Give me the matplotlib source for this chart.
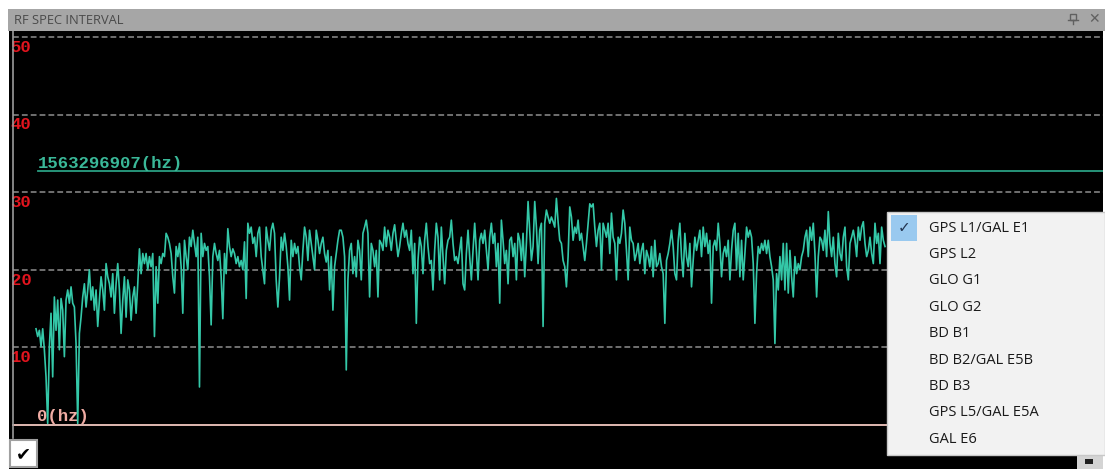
# ============================================================
# RF SPEC INTERVAL — spectrum window screenshot recreation
# ============================================================

import numpy as np
import matplotlib
matplotlib.use('Agg')
import matplotlib.pyplot as plt
from matplotlib.patches import Rectangle

# ============================================================
# 1. DATA
# ============================================================
# spectrum level per frequency bin (dB-ish units)
spectrum_a = [
    12.4, 11.4, 12.2, 10.1, 12.4, 9.7, 6.2, 0.2, 10.1, 14.4,
    6.2, 16.5, 12.2, 16.1, 9.7, 16.3, 14.8, 8.8, 16.1, 17.4,
    15.7, 17.8, 15.7, 15.2, 10.5, 0.2, 11.8, 13.9, 16.5, 18.2,
    15.2, 17.4, 20.0, 16.1, 17.8, 14.8, 17.4, 12.7, 16.1, 19.1,
    17.4, 14.8, 20.8, 19.1, 18.2, 16.5, 19.5, 14.4, 18.2, 20.8,
    17.4, 11.8, 16.1, 19.1, 13.9, 18.7, 17.4, 13.5, 16.5, 17.8,
    14.4, 18.2, 22.7, 19.5, 22.1, 20.8, 22.1, 20.0, 21.7, 20.4,
    22.1, 11.4, 20.4, 15.7, 21.7, 20.8, 22.1, 21.7, 24.7, 24.2,
    23.4, 22.1, 19.1, 17.0, 23.0, 21.7, 23.4, 20.4, 14.4, 23.8,
    21.7, 20.0, 24.2, 23.0, 25.1, 23.4, 21.7, 24.2, 4.9, 24.7,
    21.7, 23.4, 22.5, 23.0,
]
spectrum_b = [
    19.1, 12.9, 21.7, 23.4, 22.1, 21.2, 22.5, 19.1, 13.7, 22.1,
    19.5, 25.3, 23.0, 21.7, 22.7, 22.1, 20.8, 21.7, 20.4, 21.2,
    20.0, 23.6, 16.3, 26.0, 24.7, 25.5, 23.4, 24.2, 21.7, 24.7,
    25.5, 21.7, 20.0, 18.2, 25.5, 23.8, 22.5, 25.1, 26.0, 24.7,
    18.7, 15.2, 19.1, 24.2, 22.5, 24.7, 23.0, 20.4, 16.1, 23.8,
    21.7, 23.4, 22.1, 23.0, 20.4, 18.7, 22.5, 25.5, 24.2, 21.2,
    25.1, 23.4, 21.7, 20.0, 25.1, 23.8, 22.1, 23.4, 24.2, 22.1,
    21.0, 22.5, 17.4, 21.7, 14.8, 20.4, 22.1, 23.8, 25.1, 25.1,
    24.2, 21.7, 7.1, 18.7, 22.5, 23.4, 19.5, 21.7, 19.1, 23.8,
    22.5, 18.7, 24.7, 25.5, 26.4, 24.7, 16.5, 23.4, 22.5, 20.4,
    22.5, 16.5, 23.8, 23.4, 22.5,
]
spectrum_c = [
    25.5, 23.0, 25.1, 24.2, 22.5, 24.7, 25.8, 23.8, 21.7, 23.0,
    24.7, 26.0, 24.2, 25.1, 23.4, 22.5, 25.1, 19.5, 23.4, 13.1,
    21.2, 24.2, 23.0, 19.5, 23.8, 26.0, 23.0, 20.8, 21.2, 17.4,
    22.5, 26.0, 24.2, 18.7, 25.5, 21.7, 18.2, 22.5, 23.8, 24.2,
    26.4, 23.4, 21.2, 21.7, 20.8, 22.5, 24.2, 18.2, 17.4, 22.1,
    25.1, 21.7, 18.7, 22.5, 26.0, 22.5, 18.7, 23.8, 24.7, 23.4,
    25.1, 22.5, 20.0, 24.2, 26.0, 23.4, 24.7, 20.4, 23.4, 15.7,
    26.4, 23.8, 20.8, 22.5, 18.2, 23.8, 24.2, 21.7, 23.4, 18.7,
    24.7, 23.8, 21.2, 24.7, 19.1, 23.4, 28.8, 25.1, 21.2, 23.0,
    28.8, 25.5, 20.8, 25.1, 26.0, 12.7, 26.0, 27.7, 26.8, 26.0,
    26.8, 26.2, 25.5, 29.2, 26.2,
]
spectrum_d = [
    23.8, 23.4, 21.2, 20.4, 17.8, 21.7, 28.1, 26.8, 23.8, 25.5,
    24.7, 26.4, 23.8, 24.7, 23.0, 21.2, 23.4, 26.0, 28.5, 28.1,
    28.5, 25.5, 23.0, 25.1, 26.0, 20.0, 26.0, 25.1, 24.2, 26.0,
    22.1, 27.3, 24.2, 23.4, 18.7, 24.2, 23.4, 24.7, 27.7, 26.0,
    22.5, 18.7, 25.5, 23.8, 23.4, 21.2, 22.1, 23.4, 20.8, 22.5,
    23.4, 19.5, 22.5, 21.7, 20.4, 23.0, 19.1, 23.8, 20.4, 20.8,
    22.1, 20.4, 19.5, 13.1, 21.2, 22.1, 23.4, 25.1, 23.0, 19.5,
    18.7, 23.8, 26.0, 21.7, 19.1, 24.7, 21.7, 20.4, 23.4, 17.8,
    21.2, 24.2, 22.5, 23.8, 25.1, 21.7, 25.5, 23.0, 24.7, 22.1,
    23.8, 15.7, 23.0, 23.8, 22.5, 26.0, 23.4, 19.1, 22.1, 23.0,
    21.7, 23.8, 18.7, 22.5, 25.1,
]
spectrum_e = [
    26.0, 20.0, 24.7, 19.1, 23.8, 18.7, 22.1, 25.5, 24.2, 25.1,
    24.2, 20.8, 13.1, 19.5, 23.0, 22.1, 23.4, 22.5, 23.8, 22.1,
    23.8, 21.7, 20.4, 18.7, 10.5, 19.5, 17.4, 21.7, 18.7, 23.4,
    17.4, 23.4, 17.0, 22.5, 19.1, 16.5, 21.7, 19.5, 20.8, 20.0,
    21.7, 22.5, 24.2, 25.1, 21.7, 25.5, 23.8, 26.0, 22.1, 16.5,
    21.7, 24.2, 23.8, 22.5, 25.1, 21.7, 27.5, 23.4, 21.7, 24.2,
    20.8, 19.1, 24.7, 22.1, 21.2, 24.2, 25.5, 20.4, 18.7, 23.4,
    24.2, 25.1, 23.8, 21.7, 25.5, 23.8, 25.5, 26.2, 23.4, 21.7,
    22.5, 24.2, 22.1, 20.8, 26.0, 23.4, 24.7, 20.8, 25.5, 23.8,
    23.0,
]
spectrum = spectrum_a + spectrum_b + spectrum_c + spectrum_d + spectrum_e

grid_levels  = [10, 20, 30, 40, 50]
grid_labels  = ['10', '20', '30', '40', '50']
center_freq  = 1563296907
center_level = 32.7

menu_items = ['GPS L1/GAL E1', 'GPS L2', 'GLO G1', 'GLO G2', 'BD B1',
              'BD B2/GAL E5B', 'BD B3', 'GPS L5/GAL E5A', 'GAL E6']

# ============================================================
# 2. FIGURE + BLACK SCOPE AREA
# ============================================================
W, H = 1105, 469
fig = plt.figure(figsize=(W / 100, H / 100), dpi=100, facecolor='white')

# scope area spans x 9..1103 px, y 31..469 px
ax = fig.add_axes([9 / W, 0, 1094 / W, (H - 31) / H])
ax.set_facecolor('black')
for s in ax.spines.values():
    s.set_visible(False)
ax.set_xticks([])
ax.set_yticks([])
ax.set_xlim(-16.2, 639.7)
ax.set_ylim(-5.67, 50.77)

mono = 'Liberation Mono'

# dashed grid + red level labels
for lvl, lab in zip(grid_levels, grid_labels):
    ax.axhline(lvl, xmin=0.004, xmax=1, color='#8e8e8e', lw=1.1,
               dashes=(3.8, 2.0), zorder=1)
    ax.text(-15.2, lvl - 0.35, lab, color='#e3141e', fontsize=12.5,
            family=mono, fontweight='bold', va='top', ha='left', zorder=3)

# zero line
ax.axhline(0, xmin=0.004, xmax=1, color='#f2c8c0', lw=1.3, zorder=2)
ax.text(0.8, 0.1, '0(hz)', color='#f0aca4', fontsize=12.5, family=mono,
        fontweight='bold', va='bottom', ha='left', zorder=3)

# center frequency marker
ax.axhline(center_level, xmin=0.0265, xmax=1, color='#2a9f82', lw=1.3, zorder=2)
ax.text(0.8, center_level + 0.05, f'{center_freq}(hz)', color='#3ab898',
        fontsize=12.5, family=mono, fontweight='bold', va='bottom', ha='left',
        zorder=3)

# spectrum trace
ax.plot(np.arange(len(spectrum)), spectrum, color='#34c8a8', lw=1.2,
        zorder=4)

# left border line
ax.plot([0.0037, 0.0037], [(H - 438) / (H - 31), 1], color='#9a9a9a', lw=1.2,
        transform=ax.transAxes, zorder=5, clip_on=False)

# ============================================================
# 3. WINDOW CHROME (pixel coords overlay)
# ============================================================
ov = fig.add_axes([0, 0, 1, 1], zorder=10)
ov.set_xlim(0, W)
ov.set_ylim(H, 0)
ov.axis('off')
ov.patch.set_alpha(0)

# title bar
ov.add_patch(Rectangle((8, 9), W - 8, 22, facecolor='#a6a6a6', edgecolor='none'))
ov.text(14, 20, 'RF SPEC INTERVAL', color='#4a4a4a', fontsize=9.3,
        family='Open Sans', va='center', ha='left')
# pin + close icons
ov.add_patch(Rectangle((1070, 14), 6, 6, facecolor='none', edgecolor='#606060', lw=1))
ov.plot([1068, 1078], [20, 20], color='#606060', lw=1)
ov.plot([1073, 1073], [20, 24], color='#606060', lw=1)
ov.text(1094, 19.5, '\u2715', color='#606060', fontsize=10, family='DejaVu Sans',
        va='center', ha='center')

# bottom-left checkbox
ov.add_patch(Rectangle((10, 440), 27, 27, facecolor='white', edgecolor='#a0a0a0', lw=1.5))
ov.text(23.5, 454, '\u2714', color='black', fontsize=13, family='DejaVu Sans',
        va='center', ha='center')

# bottom-right tab
ov.add_patch(Rectangle((1077, 454), 26, 15, facecolor='#d4d4d4', edgecolor='none'))
ov.add_patch(Rectangle((1085, 459), 8, 5, facecolor='#202020', edgecolor='none'))

# dropdown menu
ov.add_patch(Rectangle((887, 212), 218, 243, facecolor='#f2f2f2',
                       edgecolor='#c8c8c8', lw=1))
ov.add_patch(Rectangle((891, 215), 26, 26, facecolor='#99c9ef', edgecolor='none'))
ov.text(904, 228, '\u2713', color='#23344f', fontsize=11, family='DejaVu Sans',
        va='center', ha='center')
for i, item in enumerate(menu_items):
    ov.text(929, 228 + i * 26.4, item, color='#1a1a1a', fontsize=10.5,
            family='Open Sans', va='center', ha='left')

plt.savefig('out.png', dpi=100, facecolor='white')
print("Saved: out.png")
